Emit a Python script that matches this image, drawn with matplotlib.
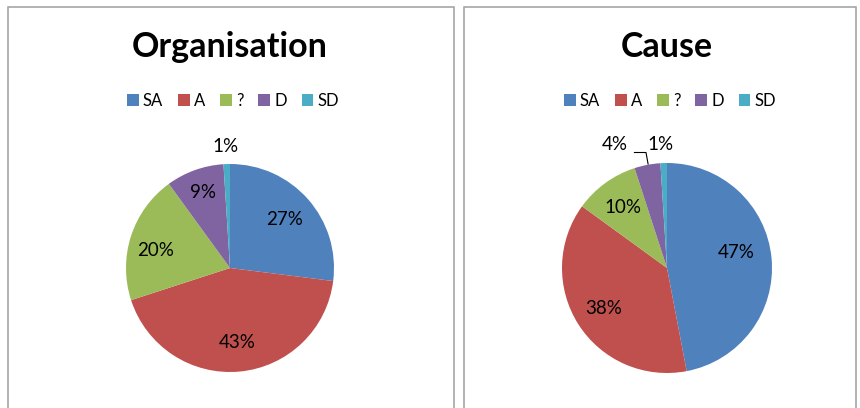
import numpy as np
import matplotlib
matplotlib.use("Agg")
import matplotlib.pyplot as plt
from matplotlib.patches import Rectangle, Patch

W, H = 860, 408

categories = ["SA", "A", "?", "D", "SD"]
colors = ["#4F81BD", "#C0504D", "#9BBB59", "#8064A2", "#4BACC6"]

org_title = "Organisation"
org_values = [27, 43, 20, 9, 1]

cause_title = "Cause"
cause_values = [47, 38, 10, 4, 1]

plt.rcParams['font.family'] = ['Lato', 'DejaVu Sans']

fig = plt.figure(figsize=(W / 100, H / 100), dpi=100)


def px_box(x0, y0, x1, y1):
    # pixel box (top-left origin) -> figure fraction rect
    return [x0 / W, 1 - y1 / H, (x1 - x0) / W, (y1 - y0) / H]


def panel(x0, x1, title, values, cx, cy, r, lab_r, fixed):
    # chart frame
    fig.patches.append(Rectangle((x0 / W, -0.05), (x1 - x0) / W, 1 - 7 / H + 0.05,
                                 transform=fig.transFigure, fill=False,
                                 edgecolor="#a6a6a6", linewidth=1.2))
    fig.text(cx / W, 1 - 47 / H, title, ha="center", va="center",
             fontsize=24.5, fontweight="bold")

    ax = fig.add_axes(px_box(cx - r, cy - r, cx + r, cy + r))
    wedges, _ = ax.pie(values, colors=colors, startangle=90, counterclock=False,
                       radius=1, wedgeprops=dict(linewidth=0))
    ax.set_xlim(-1, 1)
    ax.set_ylim(-1, 1)
    ax.axis("off")

    # percentage labels: along the wedge bisector, or at a fixed spot
    for w, v, d, pos in zip(wedges, values, lab_r, fixed):
        ang = np.deg2rad((w.theta1 + w.theta2) / 2)
        x, y = d * np.cos(ang), d * np.sin(ang)
        if pos is not None:
            x, y = pos
        ax.text(x, y, f"{v}%", ha="center", va="center", fontsize=13.5,
                clip_on=False)

    handles = [Patch(facecolor=c, edgecolor="none") for c in colors]
    fig.legend(handles, categories, loc="center",
               bbox_to_anchor=((cx + 3) / W, 1 - 101 / H), ncol=5, frameon=False,
               handlelength=0.7, handleheight=0.7, handletextpad=0.25,
               columnspacing=0.9, fontsize=12)
    return ax


panel(8, 454, org_title, org_values, 230, 268, 104,
      [0.70, 0.72, 0.74, 0.77, 1.15],
      [None, None, (-0.72, 0.17), None, (-0.04, 1.17)])

ax2 = panel(464, 856, cause_title, cause_values, 667, 268, 105,
            [0.67, 0.72, 0.71, 1.2, 1.2],
            [(0.66, 0.15), None, None, (-0.5, 1.18), (-0.06, 1.18)])
# leader line for the 4% slice
ax2.plot([-0.18, -0.2, -0.31], [0.99, 1.1, 1.1], color="black", lw=0.8,
         clip_on=False)

fig.savefig("out.png", dpi=100)
